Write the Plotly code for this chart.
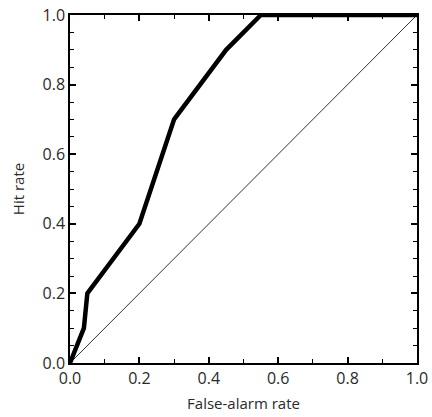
import plotly.graph_objects as go

far = [0.0, 0.04, 0.05, 0.2, 0.3, 0.45, 0.55, 1.0]
hit = [0.0, 0.1, 0.2, 0.4, 0.7, 0.9, 1.0, 1.0]
chance_x = [0.0, 1.0]
chance_y = [0.0, 1.0]

fig = go.Figure()
fig.add_trace(go.Scatter(x=chance_x, y=chance_y, mode="lines",
                         line=dict(color="#333333", width=1), showlegend=False))
fig.add_trace(go.Scatter(x=far, y=hit, mode="lines",
                         line=dict(color="black", width=4.5), showlegend=False,
                         cliponaxis=False))

font = dict(family="Open Sans, Liberation Sans, sans-serif", size=16, color="#2a2a2a")
fig.update_layout(
    width=432, height=417,
    margin=dict(l=70, r=15, t=15, b=54, autoexpand=False),
    paper_bgcolor="white", plot_bgcolor="white",
    font=font,
)
fig.update_xaxes(range=[0, 1], dtick=0.2, tickformat=".1f", ticks="inside", ticklen=6,
                 tickwidth=1.5, tickcolor="black", automargin=False,
                 showline=True, linecolor="black", linewidth=1.5, mirror="ticks",
                 showgrid=False, zeroline=False,
                 minor=dict(dtick=0.1, ticks="inside", ticklen=4, tickcolor="black", tickwidth=1.2, showgrid=False),
                 title=dict(text="False-alarm rate", standoff=11, font=dict(size=15)))
fig.update_yaxes(range=[0, 1], dtick=0.2, tickformat=".1f", ticks="inside", ticklen=6,
                 tickwidth=1.5, tickcolor="black", automargin=False,
                 showline=True, linecolor="black", linewidth=1.5, mirror="ticks",
                 showgrid=False, zeroline=False,
                 minor=dict(dtick=0.05, ticks="inside", ticklen=4, tickcolor="black", tickwidth=1.2, showgrid=False),
                 title=dict(text="Hit rate", standoff=14, font=dict(size=15)))
fig.write_html("out.html")
